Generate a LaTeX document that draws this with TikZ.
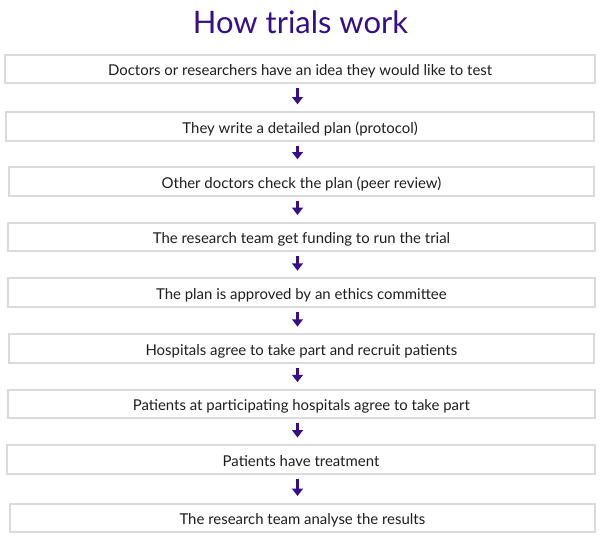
\documentclass[tikz,border=0pt]{standalone}
\usepackage{fontspec}
\setmainfont{Lato}
\usetikzlibrary{arrows.meta}
\definecolor{purp}{RGB}{52,14,140}
\definecolor{boxgray}{RGB}{218,218,218}
\definecolor{txt}{RGB}{30,30,30}
\tikzset{
  box/.style={draw=boxgray, line width=1.6pt, inner sep=0pt, fill=white,
    minimum height=21.4pt, text height=11pt, text depth=1pt,
    font=\fontsize{11.2}{13}\selectfont, text=txt},
  arr/.style={draw=purp, line width=1.9pt,
    -{Triangle[length=5.5pt,width=8pt]}, shorten <=3pt, shorten >=5pt},
  title/.style={font=\fontsize{23.2}{26}\selectfont, text=purp, inner sep=0pt, anchor=base}
}
\begin{document}
\begin{tikzpicture}[x=0.75pt,y=-0.75pt]
\useasboundingbox[fill=white] (0,0) rectangle (600,538);
\node[title] (t) at (300.5,33.3) {How trials work};
\node[box, minimum width=442.3pt] (b1) at (300.15,69) {Doctors or researchers have an idea they would like to test};
\node[box, minimum width=441.2pt] (b2) at (300.15,126.35) {They write a detailed plan (protocol)};
\node[box, minimum width=439.2pt] (b3) at (301.5,181.35) {Other doctors check the plan (peer review)};
\node[box, minimum width=439.8pt] (b4) at (301.5,237) {The research team get funding to run the trial};
\node[box, minimum width=440.5pt] (b5) at (301.35,292.7) {The plan is approved by an ethics committee};
\node[box, minimum width=438.5pt] (b6) at (301.35,348.65) {Hospitals agree to take part and recruit patients};
\node[box, minimum width=440pt] (b7) at (301.35,404.15) {Patients at participating hospitals agree to take part};
\node[box, minimum width=440.5pt] (b8) at (301,459.5) {Patients have treatment};
\node[box, minimum width=438.5pt] (b9) at (302.35,518) {The research team analyse the results};
\coordinate (ax) at (297.5,0);
\foreach \a/\b in {b1/b2,b2/b3,b3/b4,b4/b5,b5/b6,b6/b7,b7/b8,b8/b9}
  \draw[arr] (\a.south -| ax) -- (\b.north -| ax);
\end{tikzpicture}
\end{document}
